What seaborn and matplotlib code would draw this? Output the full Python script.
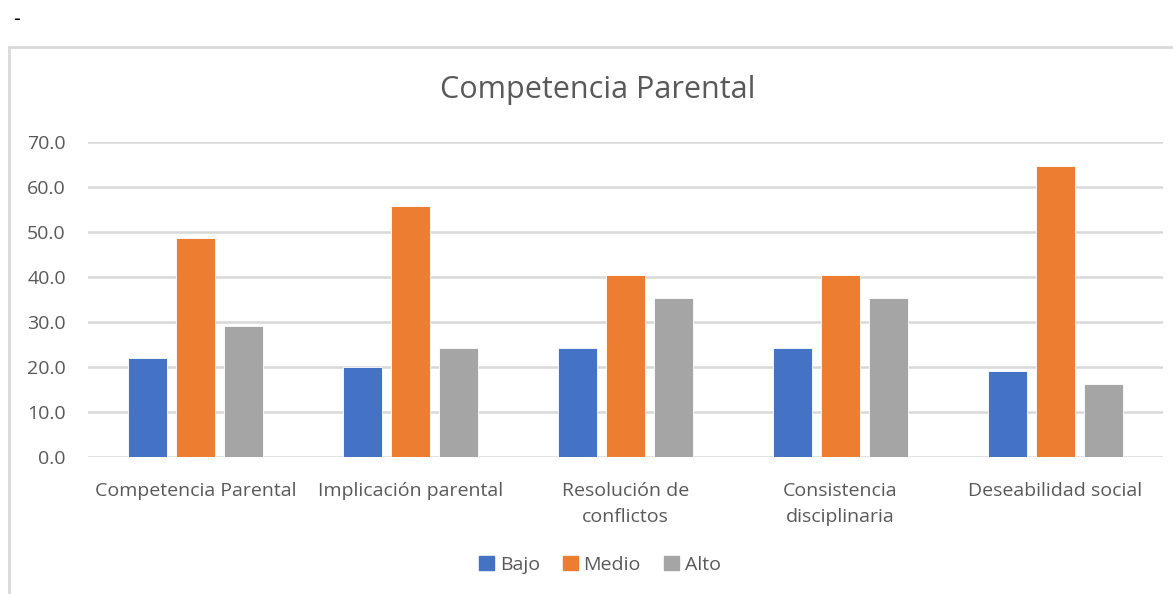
import matplotlib.pyplot as plt
import matplotlib.patches as mpatches
import pandas as pd
import seaborn as sns
from matplotlib.ticker import FormatStrFormatter

categories = [
    "Competencia Parental",
    "Implicación parental",
    "Resolución de\nconflictos",
    "Consistencia\ndisciplinaria",
    "Deseabilidad social",
]
levels = ["Bajo", "Medio", "Alto"]
bajo = [22.1, 20.1, 24.2, 24.2, 19.1]
medio = [48.7, 55.7, 40.5, 40.5, 64.6]
alto = [29.1, 24.2, 35.3, 35.3, 16.2]
colors = ["#4472C4", "#ED7D31", "#A5A5A5"]

rows = []
for level, values in zip(levels, [bajo, medio, alto]):
    for cat, v in zip(categories, values):
        rows.append({"categoria": cat, "nivel": level, "valor": v})
df = pd.DataFrame(rows)

sns.set_style("white")
plt.rcParams["font.family"] = ["Open Sans", "DejaVu Sans"]
text_color = "#595959"
grid_color = "#D9D9D9"

fig = plt.figure(figsize=(11.73, 5.94), dpi=100)

# chart border (Excel chart area)
fig.patches.append(
    mpatches.Rectangle(
        (9 / 1173, -0.1), 1.2, 1 - 47 / 594 + 0.1,
        transform=fig.transFigure, fill=False, edgecolor=grid_color, linewidth=2,
    )
)
fig.text(13 / 1173, 1 - 20 / 594, "-", fontsize=15, color="black", va="center")

ax = fig.add_axes([88 / 1173, 1 - 457 / 594, 1075 / 1173, 315 / 594])
sns.barplot(
    data=df, x="categoria", y="valor", hue="nivel", hue_order=levels,
    palette=colors, saturation=1, width=0.67, gap=0.2, ax=ax, legend=False,
    edgecolor="white", linewidth=0.6,
)

ax.set_ylim(0, 70)
ax.set_xlim(-0.5, 4.5)
ax.set_yticks(range(0, 71, 10))
ax.yaxis.set_major_formatter(FormatStrFormatter("%.1f"))
ax.yaxis.grid(True, color=grid_color, linewidth=1.8)
ax.set_axisbelow(True)
for s in ax.spines.values():
    s.set_visible(False)
ax.tick_params(axis="both", length=0, colors=text_color, labelsize=14)
ax.tick_params(axis="y", pad=16)
ax.tick_params(axis="x", pad=18)
for lbl in ax.get_xticklabels():
    lbl.set_linespacing(1.55)
ax.set_xlabel("")
ax.set_ylabel("")

fig.text(598 / 1173, 1 - 90 / 594, "Competencia Parental", fontsize=22,
         color=text_color, ha="center", va="center")

handles = [mpatches.Patch(color=c, label=l) for c, l in zip(colors, levels)]
fig.legend(
    handles=handles, loc="center", bbox_to_anchor=(600 / 1173, 1 - 565 / 594),
    ncol=3, frameon=False, fontsize=14, handlelength=0.75, handleheight=0.75,
    handletextpad=0.3, columnspacing=1.2, labelcolor=text_color,
)

plt.savefig("out.png", dpi=100)
